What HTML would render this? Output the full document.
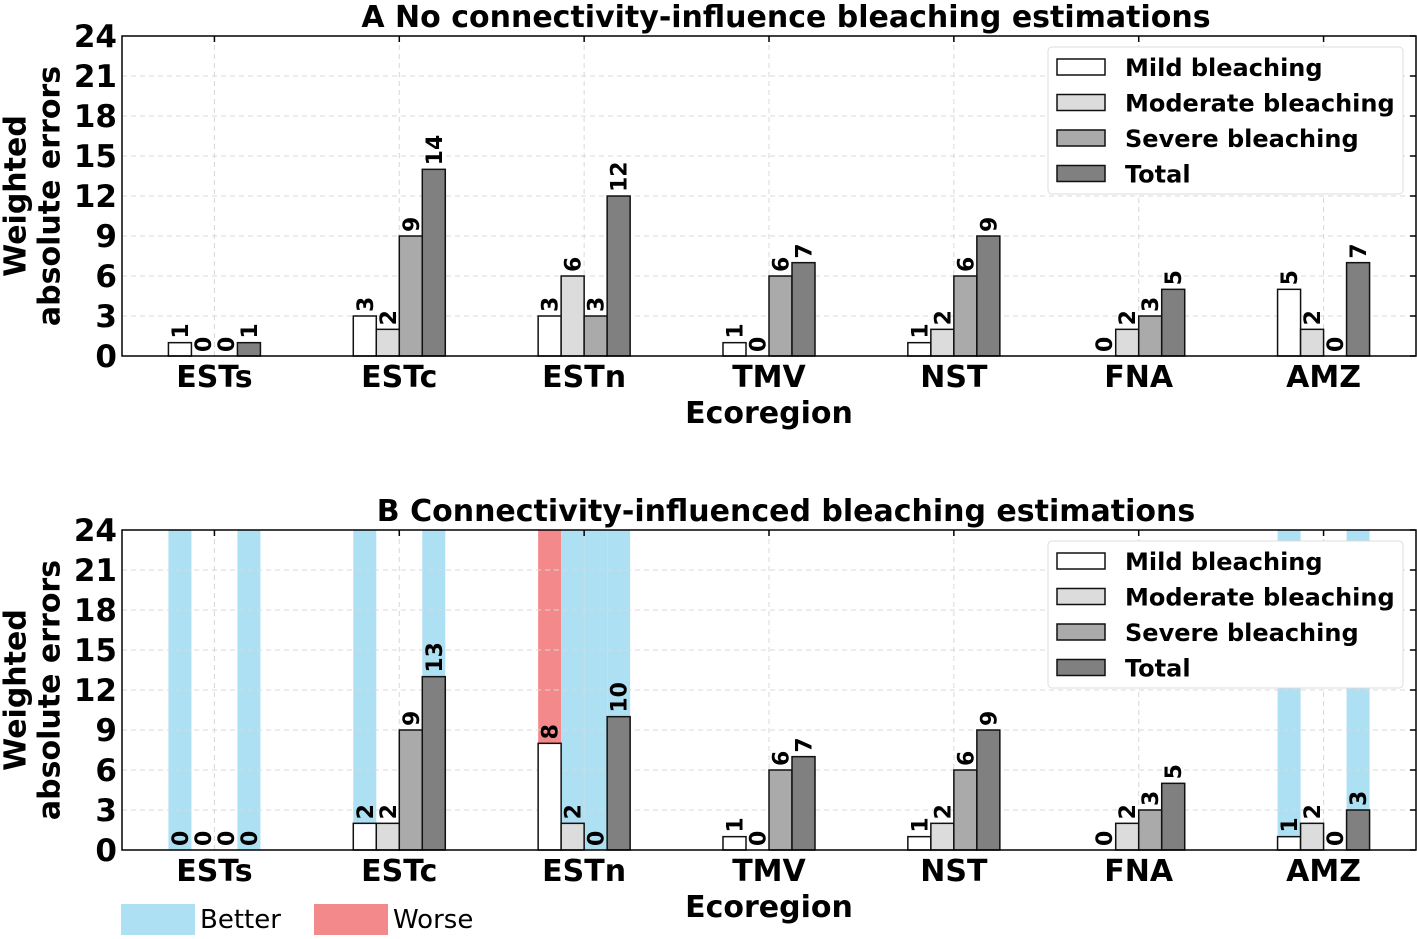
<!DOCTYPE html>
<html><head><meta charset="utf-8"><style>
html,body{margin:0;padding:0;background:#fff;}
svg{display:block;font-family:"DejaVu Sans","Liberation Sans",sans-serif;font-weight:bold;}
</style></head><body>
<svg id="chart" width="1417" height="939" viewBox="0 0 1417 939" xmlns="http://www.w3.org/2000/svg"></svg>
<script>
const categories = ["ESTs","ESTc","ESTn","TMV","NST","FNA","AMZ"];
const seriesNames = ["Mild bleaching","Moderate bleaching","Severe bleaching","Total"];
const panelAMild = [1,3,3,1,1,0,5];
const panelAModerate = [0,2,6,0,2,2,2];
const panelASevere = [0,9,3,6,6,3,0];
const panelATotal = [1,14,12,7,9,5,7];
const panelBMild = [0,2,8,1,1,0,1];
const panelBModerate = [0,2,2,0,2,2,2];
const panelBSevere = [0,9,0,6,6,3,0];
const panelBTotal = [0,13,10,7,9,5,3];
// highlight: 0 none, 1 better, -1 worse ; [category][series]
const panelBHighlight = [[1,0,0,1],[1,0,0,1],[-1,1,1,1],[0,0,0,0],[0,0,0,0],[0,0,0,0],[1,0,0,1]];
const yTicks = [0,3,6,9,12,15,18,21,24];
const yMax = 24;

const colors = ["#ffffff","#dcdcdc","#aaaaaa","#808080"];
const NS = "http://www.w3.org/2000/svg";
const svg = document.getElementById("chart");
function mk(tag, attrs, parent){const e=document.createElementNS(NS,tag);for(const k in attrs)e.setAttribute(k,attrs[k]);(parent||svg).appendChild(e);return e;}

const L=122,R=1416,W=R-L,step=W/categories.length,bw=23;
function xc(i){return L+step*(i+0.5);}

function panel(top,bottom,title,series,highlight,name){
  const g=mk("g",{});
  
  
  const y=v=>bottom-(v/yMax)*(bottom-top);
  if(highlight){
    highlight.forEach((row,i)=>row.forEach((h,s)=>{
      if(!h)return;
      const r=mk("rect",{x:xc(i)-2*bw+s*bw,y:top,width:bw,height:bottom-top,fill:h>0?"#aee0f4":"#f4898c"},g);
      
      
    }));
  }
  yTicks.forEach(t=>{
    if(t>0&&t<yMax){const l=mk("line",{x1:L,x2:R,y1:y(t),y2:y(t),stroke:"#d8d8d8","stroke-dasharray":"5,4","stroke-width":1},g);
    }
    const tl=mk("text",{x:L-5,y:y(t)+11,"text-anchor":"end","font-size":31,fill:"#000"},g);
    tl.textContent=t;
    
    mk("line",{x1:R-6,x2:R,y1:y(t),y2:y(t),stroke:"#000","stroke-width":1.5},g);
  });
  categories.forEach((c,i)=>{
    const l=mk("line",{x1:xc(i),x2:xc(i),y1:top,y2:bottom,stroke:"#d8d8d8","stroke-dasharray":"5,4"},g);
    
    mk("line",{x1:xc(i),x2:xc(i),y1:top,y2:top+6,stroke:"#000","stroke-width":1.5},g);
    const t=mk("text",{x:xc(i),y:bottom+31,"text-anchor":"middle","font-size":30,fill:"#000"},g);
    t.textContent=c;
  });
  series.forEach((vals,s)=>vals.forEach((v,i)=>{
    const x=xc(i)-2*bw+s*bw;
    const b=mk("rect",{x:x,y:y(v),width:bw,height:bottom-y(v),fill:colors[s],stroke:"#111","stroke-width":1.5},g);
    
    
    const tx=x+bw/2+8, ty=y(v)-4;
    const lb=mk("text",{x:tx,y:ty,transform:`rotate(-90 ${tx} ${ty})`,"font-size":22,fill:"#000"},g);
    lb.textContent=v;
    
  }));
  const ax=mk("rect",{x:L,y:top,width:W,height:bottom-top,fill:"none",stroke:"#000","stroke-width":1.5},g);
  
  const tt=mk("text",{x:786,y:top-9,"text-anchor":"middle","font-size":30,fill:"#000"},g);
  tt.textContent=title;
  const cy=(top+bottom)/2;
  const y1=mk("text",{x:16,y:cy,transform:`rotate(-90 16 ${cy})`,"text-anchor":"middle","font-size":30,fill:"#000","dominant-baseline":"central"},g);
  y1.textContent="Weighted";
  const y2=mk("text",{x:50,y:cy,transform:`rotate(-90 50 ${cy})`,"text-anchor":"middle","font-size":30,fill:"#000","dominant-baseline":"central"},g);
  y2.textContent="absolute errors";
  const xl=mk("text",{x:769,y:bottom+67,"text-anchor":"middle","font-size":30,fill:"#000"},g);
  xl.textContent="Ecoregion";
  const lg=mk("g",{},g);
  
  mk("rect",{x:1048,y:top+11,width:355,height:147,rx:4,fill:"#fff",stroke:"#ddd","stroke-width":1},lg);
  seriesNames.forEach((n,s)=>{
    const ly=top+31+s*35.5;
    const e=mk("g",{},lg);
    
    mk("rect",{x:1057,y:ly-8,width:48,height:16,fill:colors[s],stroke:"#111","stroke-width":1.5},e);
    const t=mk("text",{x:1125,y:ly+9,"font-size":24,fill:"#000"},e);t.textContent=n;
  });
}
panel(36,356,"A  No connectivity-influence bleaching estimations",[panelAMild,panelAModerate,panelASevere,panelATotal],null,"panel-a");
panel(530,850,"B  Connectivity-influenced bleaching estimations",[panelBMild,panelBModerate,panelBSevere,panelBTotal],panelBHighlight,"panel-b");
const bl=mk("g",{});
mk("rect",{x:121,y:904,width:74,height:31,fill:"#aee0f4"},bl);
const t1=mk("text",{x:200,y:928,"font-size":26,"font-weight":"normal",fill:"#000"},bl);t1.textContent="Better";
mk("rect",{x:314,y:904,width:74,height:31,fill:"#f4898c"},bl);
const t2=mk("text",{x:393,y:928,"font-size":26,"font-weight":"normal",fill:"#000"},bl);t2.textContent="Worse";
</script>
</body></html>
